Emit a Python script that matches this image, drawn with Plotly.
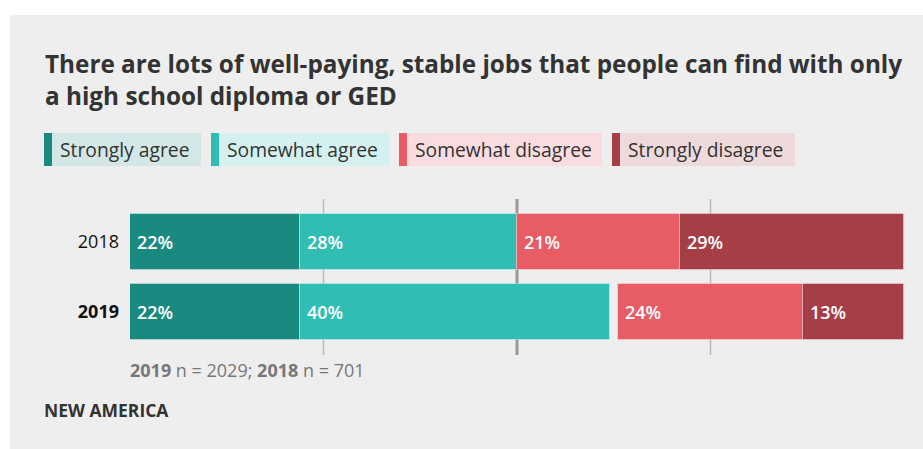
import plotly.graph_objects as go

# Survey responses (percent of respondents)
years = ["2018", "2019"]
year_labels = ["2018", "<b>2019</b>"]
strongly_agree = [22, 22]
somewhat_agree = [28, 40]
somewhat_disagree = [21, 24]
strongly_disagree = [29, 13]

categories = ["Strongly agree", "Somewhat agree", "Somewhat disagree", "Strongly disagree"]
colors = ["#1a8a81", "#2fbdb4", "#e75c65", "#a63e48"]
tints = ["#d3e8e6", "#d5f1ef", "#f9dcdf", "#eed9db"]

W, H = 923, 449
FONT = "Open Sans"
TEXT = "#333333"


def px(x):
    return x / W


def py(y):
    return 1 - y / H


# agree segments stack from the left edge, disagree segments from the right edge
bases = [
    [0] * len(years),
    strongly_agree[:],
    [100 - sd - swd for sd, swd in zip(strongly_disagree, somewhat_disagree)],
    [100 - sd for sd in strongly_disagree],
]
series = [strongly_agree, somewhat_agree, somewhat_disagree, strongly_disagree]

fig = go.Figure()
for name, vals, base, col in zip(categories, series, bases, colors):
    fig.add_trace(go.Bar(
        y=list(range(len(years))), x=vals, base=base, orientation="h",
        name=name, width=0.8,
        marker=dict(color=col, line=dict(color="rgba(255,255,255,0.35)", width=1)),
        showlegend=False, hoverinfo="skip",
    ))

annotations = []
# value labels at the start of each segment
for vals, base in zip(series, bases):
    for i, (v, b) in enumerate(zip(vals, base)):
        annotations.append(dict(
            x=b, y=i, xref="x", yref="y", text=f"{v}%", showarrow=False,
            xanchor="left", yanchor="middle", xshift=5,
            font=dict(family=FONT, size=18, color="white", weight=600),
        ))

# title
annotations.append(dict(
    x=px(43), y=py(45), xref="paper", yref="paper", xanchor="left", yanchor="top",
    align="left", showarrow=False,
    text="There are lots of well-paying, stable jobs that people can find with only<br>a high school diploma or GED",
    font=dict(family=FONT, size=24.3, color=TEXT, weight=700),
))

# legend chips
leg_x0 = [44, 211, 399, 612]
leg_x1 = [201, 389, 602, 795]
leg_y0, leg_y1 = 133, 166
shapes = [dict(type="rect", xref="paper", yref="paper", x0=px(10), x1=1, y0=0, y1=py(15),
               fillcolor="#eeeeee", line=dict(width=0), layer="below")]
for name, col, tint, a, b in zip(categories, colors, tints, leg_x0, leg_x1):
    shapes.append(dict(type="rect", xref="paper", yref="paper", x0=px(a), x1=px(b),
                       y0=py(leg_y1), y1=py(leg_y0), fillcolor=tint, line=dict(width=0), layer="below"))
    shapes.append(dict(type="rect", xref="paper", yref="paper", x0=px(a), x1=px(a + 8),
                       y0=py(leg_y1), y1=py(leg_y0), fillcolor=col, line=dict(width=0), layer="below"))
    annotations.append(dict(
        x=px(a + 14), y=py((leg_y0 + leg_y1) / 2), xref="paper", yref="paper",
        xanchor="left", yanchor="middle", showarrow=False, text=name,
        font=dict(family=FONT, size=19.3, color=TEXT),
    ))

# reference lines at 25 / 50 / 75 percent
for xv, w, c in [(25, 1.5, "#b8b8b8"), (75, 1.5, "#b8b8b8"), (50, 3, "#999999")]:
    shapes.append(dict(type="line", xref="x", yref="paper", x0=xv, x1=xv,
                       y0=py(355), y1=py(199), line=dict(color=c, width=w), layer="below"))

# sample size note and source
annotations.append(dict(
    x=px(128), y=py(370), xref="paper", yref="paper", xanchor="left", yanchor="middle",
    showarrow=False, text="<b>2019</b> n = 2029; <b>2018</b> n = 701",
    font=dict(family=FONT, size=18, color="#777777"),
))
annotations.append(dict(
    x=px(42), y=py(410), xref="paper", yref="paper", xanchor="left", yanchor="middle",
    showarrow=False, text="<b>NEW AMERICA</b>",
    font=dict(family=FONT, size=17.5, color=TEXT),
))

fig.update_layout(
    width=W, height=H, margin=dict(l=0, r=0, t=0, b=0),
    paper_bgcolor="white", plot_bgcolor="rgba(0,0,0,0)",
    barmode="overlay", bargap=0,
    xaxis=dict(range=[0, 100], domain=[px(130), px(904)], showgrid=False,
               zeroline=False, showticklabels=False, fixedrange=True),
    yaxis=dict(range=[1.614, -0.614], domain=[py(355), py(199)],
               tickvals=list(range(len(years))), ticktext=year_labels,
               tickfont=dict(family=FONT, size=18, color="#111111"),
               showgrid=False, zeroline=False, ticklabelstandoff=10, fixedrange=True),
    shapes=shapes, annotations=annotations, showlegend=False,
)

fig.write_html("out.html")
